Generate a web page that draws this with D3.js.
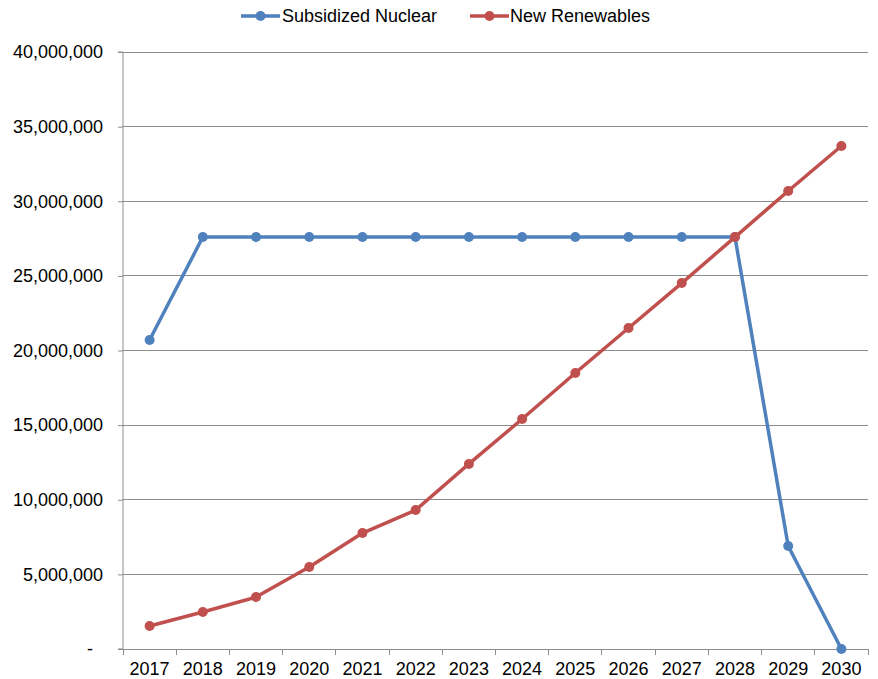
<!DOCTYPE html>
<html><head><meta charset="utf-8">
<script src="https://cdn.jsdelivr.net/npm/d3@7"></script>
<style>body{margin:0;background:#fff;}text{font-family:"Liberation Sans",Arial,sans-serif;}</style>
</head><body>
<svg id="c" width="878" height="679"></svg>
<script>
const years = ["2017","2018","2019","2020","2021","2022","2023","2024","2025","2026","2027","2028","2029","2030"];
const nuclear = [20700000,27600000,27600000,27600000,27600000,27600000,27600000,27600000,27600000,27600000,27600000,27600000,6900000,0];
const renewables = [1540000,2480000,3480000,5490000,7770000,9310000,12400000,15410000,18490000,21510000,24520000,27600000,30690000,33700000];
const yTicks = [0,5000000,10000000,15000000,20000000,25000000,30000000,35000000,40000000];
const seriesNames = ["Subsidized Nuclear","New Renewables"];
const colors = ["#4F81BD","#C0504D"];

const svg = d3.select("#c");
const m = {l:123, r:868, t:52, b:649};
const x = d3.scaleBand().domain(years).range([m.l, m.r]);
const y = d3.scaleLinear().domain([0,40000000]).range([m.b, m.t]);
const FS = 18;

// gridlines
svg.append("g").selectAll("line").data(yTicks.filter(d=>d>0)).join("line")
  .attr("x1", m.l).attr("x2", m.r).attr("y1", d=>y(d)).attr("y2", d=>y(d))
  .attr("stroke","#8c8c8c").attr("stroke-width",1).attr("shape-rendering","crispEdges");

const fmt = d3.format(",");
const yAxis = d3.axisLeft(y).tickValues(yTicks).tickSize(5).tickPadding(15)
  .tickFormat(d => d===0 ? "-" : fmt(d));
const gy = svg.append("g").attr("transform",`translate(${m.l},0)`).call(yAxis);
gy.select(".domain").attr("stroke","#8c8c8c").attr("d",`M-5,${m.b}H0V${m.t}H-5`);
gy.selectAll(".tick line").attr("stroke","#8c8c8c");
gy.selectAll(".tick text").attr("font-size",FS).attr("fill","#000").style("font-family","Liberation Sans, Arial, sans-serif");
gy.selectAll(".tick text").filter(d=>d===0).attr("dx",-10);

// x axis
const gx = svg.append("g").attr("transform",`translate(0,${m.b})`);
gx.append("line").attr("x1",m.l).attr("x2",m.r).attr("stroke","#8c8c8c").attr("shape-rendering","crispEdges");
const bounds = years.map(d=>x(d)).concat([m.r]);
gx.selectAll("line.tk").data(bounds).join("line").attr("class","tk")
  .attr("x1",d=>d).attr("x2",d=>d).attr("y1",0).attr("y2",6).attr("stroke","#8c8c8c").attr("shape-rendering","crispEdges");
gx.selectAll("text").data(years).join("text")
  .attr("x",d=>x(d)+x.bandwidth()/2).attr("y",26).attr("text-anchor","middle")
  .attr("font-size",FS).attr("fill","#000").text(d=>d);

const cx = d => x(d)+x.bandwidth()/2;
const line = d3.line().x((d,i)=>cx(years[i])).y(d=>y(d));
[nuclear, renewables].forEach((s,k)=>{
  const g = svg.append("g");
  g.append("path").datum(s).attr("d",line).attr("fill","none").attr("stroke",colors[k]).attr("stroke-width",3.5).attr("stroke-linejoin","round");
  g.selectAll("circle").data(s).join("circle").attr("cx",(d,i)=>cx(years[i])).attr("cy",d=>y(d)).attr("r",5).attr("fill",colors[k]);
});

// legend
const leg = [{x:241, tx:282},{x:470, tx:510}];
seriesNames.forEach((n,k)=>{
  const g = svg.append("g");
  g.append("line").attr("x1",leg[k].x).attr("x2",leg[k].x+39).attr("y1",16).attr("y2",16).attr("stroke",colors[k]).attr("stroke-width",3.5);
  g.append("circle").attr("cx",leg[k].x+19.5).attr("cy",16).attr("r",5).attr("fill",colors[k]);
  g.append("text").attr("x",leg[k].tx).attr("y",22).attr("font-size",FS).attr("fill","#000").text(n);
});
</script>
</body></html>
